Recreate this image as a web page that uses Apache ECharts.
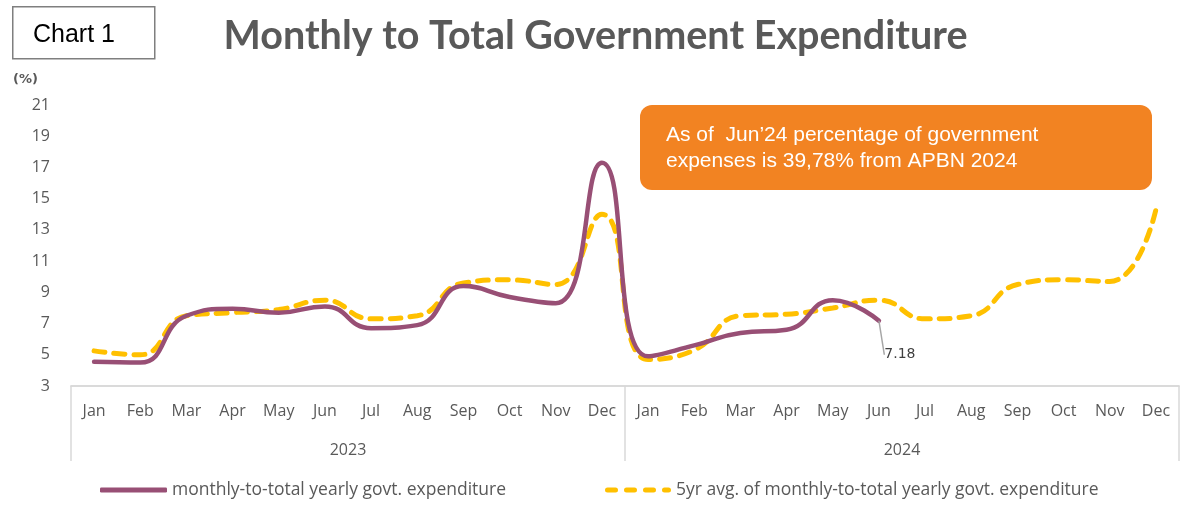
<!DOCTYPE html>
<html><head><meta charset="utf-8">
<script src="https://cdn.jsdelivr.net/npm/echarts@6/dist/echarts.min.js"></script>
<style>html,body{margin:0;padding:0;background:#fff}#c{width:1191px;height:519px}</style>
</head><body><div id="c"></div>
<script>
const months = ['Jan','Feb','Mar','Apr','May','Jun','Jul','Aug','Sep','Oct','Nov','Dec','Jan','Feb','Mar','Apr','May','Jun','Jul','Aug','Sep','Oct','Nov','Dec'];
const years = ['2023','2024'];
const yTicks = {min:3, max:21, interval:2};
const monthly = [4.55,4.5,7.5,7.95,7.7,8.1,6.7,6.9,9.4,8.7,8.3,17.3,4.9,5.6,6.4,6.6,8.5,7.18];
const avg5yr = [5.25,5.0,7.5,7.7,7.9,8.5,7.3,7.5,9.6,9.8,9.5,14.0,4.7,5.3,7.5,7.6,8.0,8.5,7.3,7.5,9.5,9.8,9.7,14.3];
const nameMonthly = 'monthly-to-total yearly govt. expenditure';
const nameAvg = '5yr avg. of monthly-to-total yearly govt. expenditure';
const noteLines = ['As of  Jun\u201924 percentage of government','expenses is 39,78% from APBN 2024'];
const lastLabel = '7.18';

const chart = echarts.init(document.getElementById('c'));
const gray = '#595959';
const lastIdx = monthly.length - 1;
const legendText = {fontFamily:'Open Sans', fontSize:17.5, color:gray};
chart.setOption({
  animation:false,
  title:[
    {text:'Monthly to Total Government Expenditure', left:'center', top:11,
     textStyle:{fontFamily:'Lato', fontWeight:'bold', fontSize:39.5, color:gray}},
    {text:'(%)', left:8, top:68, textStyle:{fontFamily:'DejaVu Sans', fontWeight:'bold', fontSize:13, color:gray}}
  ],
  graphic:[
    {type:'rect', left:12, top:6, shape:{width:142, height:52}, style:{fill:'#fff', stroke:'#7f7f7f', lineWidth:1.5}},
    {type:'text', left:33, top:23, style:{text:'Chart 1', font:'25px "Liberation Sans"', fill:'#000'}},
    {type:'rect', left:640, top:105, shape:{width:512, height:85, r:12}, style:{fill:'#F28322'}},
    {type:'text', left:666, top:122, style:{text:noteLines.join('\n'), font:'21px "Liberation Sans"', fill:'#fff', lineHeight:26}}
  ],
  legend:[
    {left:95, top:476, itemWidth:67, itemHeight:5, data:[{name:nameMonthly, icon:'roundRect'}],
     itemStyle:{color:'#984F75'}, textStyle:legendText},
    {left:600, top:476, itemWidth:66, itemHeight:5,
     data:[{name:nameAvg, icon:'path://M2.5,0h8a2.5,2.5 0 0 1 0,5h-8a2.5,2.5 0 0 1 0,-5z M21.5,0h8a2.5,2.5 0 0 1 0,5h-8a2.5,2.5 0 0 1 0,-5z M40.5,0h8a2.5,2.5 0 0 1 0,5h-8a2.5,2.5 0 0 1 0,-5z M59.5,0h4a2.5,2.5 0 0 1 0,5h-4a2.5,2.5 0 0 1 0,-5z'}],
     itemStyle:{color:'#FFC000'}, textStyle:legendText}
  ],
  grid:{left:71, right:12, top:105, bottom:133},
  xAxis:[
    {type:'category', data:months, boundaryGap:true,
     axisLine:{show:true, lineStyle:{color:'#d9d9d9', width:1.5}},
     axisTick:{show:false},
     axisLabel:{interval:0, margin:17, fontFamily:'Open Sans', fontSize:16, color:gray}},
    {type:'category', data:years, boundaryGap:true, position:'bottom',
     axisLine:{show:true, lineStyle:{color:'#d9d9d9', width:1.5}},
     axisTick:{show:true, length:75, lineStyle:{color:'#d9d9d9', width:1.5}},
     axisLabel:{margin:56, fontFamily:'Open Sans', fontSize:16, color:gray}}
  ],
  yAxis:{type:'value', min:yTicks.min, max:yTicks.max, interval:yTicks.interval,
    axisLine:{show:false}, axisTick:{show:false}, splitLine:{show:false},
    axisLabel:{margin:21, fontFamily:'Open Sans', fontSize:16, color:gray}},
  series:[
    {name:nameMonthly, type:'line', smooth:0.5, symbol:'circle', symbolSize:0, showSymbol:true, z:3,
     data: monthly.map((v,i)=> i===lastIdx ? {value:v, label:{show:true, formatter:lastLabel, position:'bottom', fontFamily:'DejaVu Sans', fontSize:14, color:'#404040'}} : v),
     label:{show:false},
     lineStyle:{color:'#984F75', width:4.5, cap:'round'}, itemStyle:{color:'#984F75'},
     labelLayout:(p)=> p.dataIndex===lastIdx ? {dx:21, dy:22} : {},
     labelLine:{show:true, lineStyle:{color:'#a6a6a6', width:1.5}}},
    {name:nameAvg, type:'line', smooth:0.5, symbol:'none', z:2, data:avg5yr,
     lineStyle:{color:'#FFC000', width:5, type:[11,9], cap:'round'}, itemStyle:{color:'#FFC000'}}
  ]
});
</script></body></html>
